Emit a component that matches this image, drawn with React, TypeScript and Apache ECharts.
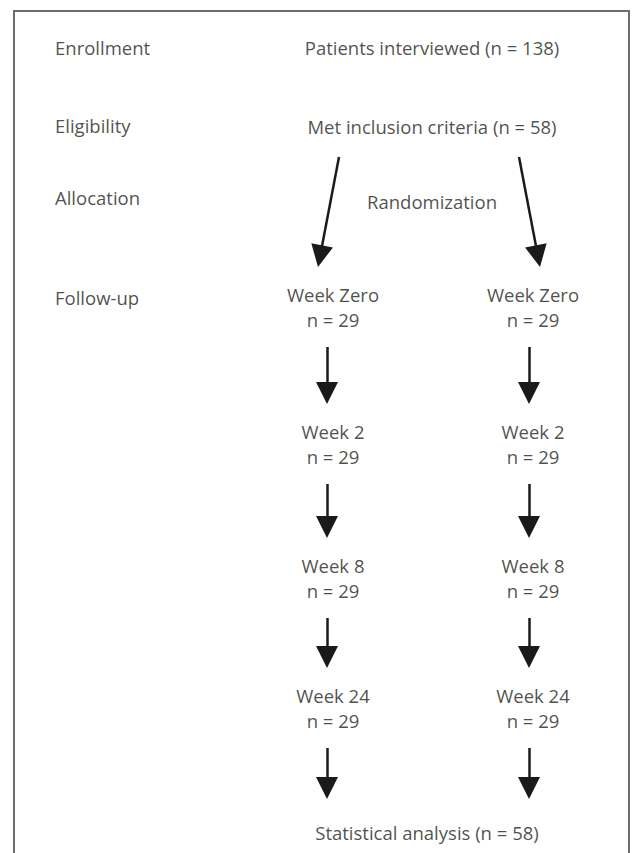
import React, { useEffect, useRef } from "react";
import * as echarts from "echarts";

// ---- data ----
const stages = ["Enrollment", "Eligibility", "Allocation", "Follow-up"];
const flowSteps = ["Patients interviewed", "Met inclusion criteria"];
const flowCounts = [138, 58];
const randomizationLabel = "Randomization";
const armWeeks = ["Week Zero", "Week 2", "Week 8", "Week 24"];
const armCountsA = [29, 29, 29, 29];
const armCountsB = [29, 29, 29, 29];
const finalStep = "Statistical analysis";
const finalCount = 58;

// ---- layout (page pixel space) ----
const W = 633;
const H = 853;
const stageX = 55;
const stageY = [47, 125, 197, 297];
const centerX = 432;
const flowY = [47, 126];
const randY = 201;
const armTextX = [333, 533];
const armArrowX = [327, 529];
const weekY = [294, 431, 565, 695];
const nGap = 25;
const finalY = 832;
const diagStart = [[339, 157], [519, 157]];
const diagTip = [[318, 267], [540, 267]];
const headLen = 22;
const headWid = 12;

const FONT = "'Open Sans', 'Noto Sans', sans-serif";
const TEXT_COLOR = "#231f20";

function endFor(from: number[], tip: number[]) {
  const dx = tip[0] - from[0];
  const dy = tip[1] - from[1];
  const len = Math.sqrt(dx * dx + dy * dy);
  return [tip[0] - (dx / len) * (headLen / 2), tip[1] - (dy / len) * (headLen / 2)];
}

export default function App() {
  const ref = useRef<HTMLDivElement>(null);
  useEffect(() => {
    document.body.style.margin = "0";
    const chart = echarts.init(ref.current!, null, { renderer: "svg" });

    const centerTexts: any[] = [];
    flowSteps.forEach((s, i) => {
      centerTexts.push({ value: [centerX, flowY[i]], name: `${s} (n = ${flowCounts[i]})` });
    });
    centerTexts.push({ value: [centerX, randY], name: randomizationLabel });
    armWeeks.forEach((w, i) => {
      centerTexts.push({ value: [armTextX[0], weekY[i]], name: w });
      centerTexts.push({ value: [armTextX[0], weekY[i] + nGap], name: `n = ${armCountsA[i]}` });
      centerTexts.push({ value: [armTextX[1], weekY[i]], name: w });
      centerTexts.push({ value: [armTextX[1], weekY[i] + nGap], name: `n = ${armCountsB[i]}` });
    });
    centerTexts.push({ value: [centerX - 5, finalY], name: `${finalStep} (n = ${finalCount})` });

    const stageTexts = stages.map((s, i) => ({ value: [stageX, stageY[i]], name: s }));

    const arrows: any[] = [];
    for (let k = 0; k < 2; k++) {
      arrows.push({ coords: [diagStart[k], endFor(diagStart[k], diagTip[k])] });
    }
    for (let k = 0; k < 2; k++) {
      for (let i = 0; i < armWeeks.length; i++) {
        const yFrom = weekY[i] + nGap + 28;
        const yTip = i + 1 < armWeeks.length ? weekY[i + 1] - 27 : finalY - 33;
        arrows.push({
          coords: [
            [armArrowX[k], yFrom],
            endFor([armArrowX[k], yFrom], [armArrowX[k], yTip]),
          ],
        });
      }
    }

    const labelBase = {
      show: true,
      fontFamily: FONT,
      fontSize: 18.5,
      color: TEXT_COLOR,
      formatter: (p: any) => p.name,
    };

    chart.setOption({
      animation: false,
      backgroundColor: "#ffffff",
      grid: { left: 0, top: 0, width: W, height: H },
      xAxis: { type: "value", min: 0, max: W, show: false },
      yAxis: { type: "value", min: 0, max: H, inverse: true, show: false },
      graphic: [
        {
          type: "polyline",
          shape: { points: [[14, H + 5], [14, 11], [629, 11], [629, H + 5]] },
          style: { stroke: "#6d6d6d", lineWidth: 2, fill: "none" },
          silent: true,
        },
      ],
      series: [
        {
          type: "scatter",
          data: centerTexts,
          symbolSize: 1,
          itemStyle: { color: "rgba(0,0,0,0)" },
          label: { ...labelBase, position: "inside", align: "center", verticalAlign: "middle" },
          silent: true,
        },
        {
          type: "scatter",
          data: stageTexts,
          symbolSize: 1,
          itemStyle: { color: "rgba(0,0,0,0)" },
          label: { ...labelBase, position: "inside", align: "left", verticalAlign: "middle" },
          silent: true,
        },
        {
          type: "lines",
          coordinateSystem: "cartesian2d",
          data: arrows,
          symbol: ["none", "triangle"],
          symbolSize: [headWid, headLen],
          lineStyle: { color: "#1a1a1a", width: 2.5, opacity: 1, curveness: 0 },
          itemStyle: { color: "#1a1a1a" },
          silent: true,
        },
      ],
    });
    return () => chart.dispose();
  }, []);
  return <div ref={ref} style={{ width: W, height: H }} />;
}
